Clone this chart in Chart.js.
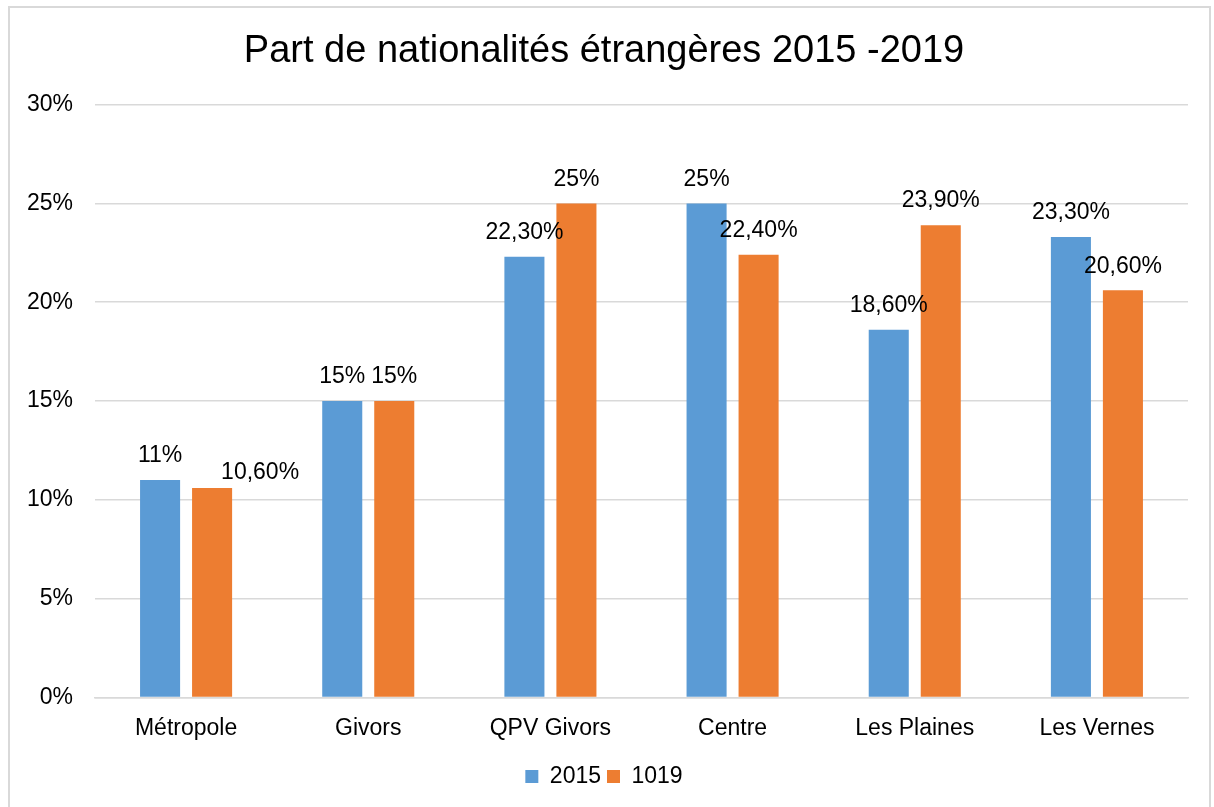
<!DOCTYPE html>
<html>
<head>
<meta charset="utf-8">
<script src="https://cdn.jsdelivr.net/npm/chart.js@4"></script>
<style>
  html, body { margin: 0; padding: 0; background: #fff; }
  #wrap { position: relative; width: 1214px; height: 807px; }
  #frame { position: absolute; left: 8px; top: 6px; width: 1203px; height: 803px;
           border: 2px solid #d9d9d9; box-sizing: border-box; pointer-events: none; }
</style>
</head>
<body>
<div id="wrap">
  <canvas id="chart" width="1214" height="807"></canvas>
  <div id="frame"></div>
</div>
<script>
const categories = ['Métropole', 'Givors', 'QPV Givors', 'Centre', 'Les Plaines', 'Les Vernes'];
const series2015 = [11, 15, 22.3, 25, 18.6, 23.3];
const series1019 = [10.6, 15, 25, 22.4, 23.9, 20.6];
const labels2015 = ['11%', '15%', '22,30%', '25%', '18,60%', '23,30%'];
const labels1019 = ['10,60%', '15%', '25%', '22,40%', '23,90%', '20,60%'];
const yTicks = [0, 5, 10, 15, 20, 25, 30];

const family = '"Liberation Sans", Arial, sans-serif';
const font = { family, size: 23 };

// data labels drawn above each bar, like Excel's "outside end"
const barLabels = {
  id: 'barLabels',
  afterDatasetsDraw(chart) {
    const ctx = chart.ctx;
    const texts = [labels2015, labels1019];
    ctx.save();
    ctx.font = '23px ' + family;
    ctx.fillStyle = '#000';
    ctx.textAlign = 'center';
    ctx.textBaseline = 'middle';
    chart.data.datasets.forEach((ds, di) => {
      chart.getDatasetMeta(di).data.forEach((bar, i) => {
        let x = bar.x, y = bar.y - 24;
        // Excel nudged this one sideways to avoid the neighbour
        if (di === 1 && i === 0) { x += 48; y += 9; }
        ctx.fillText(texts[di][i], x, y);
      });
    });
    ctx.restore();
  }
};

new Chart(document.getElementById('chart'), {
  type: 'bar',
  data: {
    labels: categories,
    datasets: [
      { label: '2015', data: series2015, backgroundColor: '#5b9bd5',
        barPercentage: 0.77, categoryPercentage: 0.571 },
      { label: '1019', data: series1019, backgroundColor: '#ed7d31',
        barPercentage: 0.77, categoryPercentage: 0.571 }
    ]
  },
  options: {
    responsive: false,
    animation: false,
    layout: { padding: { left: 20, right: 26, top: 11, bottom: 9 } },
    scales: {
      y: {
        min: 0, max: 30,
        afterBuildTicks: s => { s.ticks = yTicks.map(v => ({ value: v })); },
        afterFit: s => { s.width = 75; },
        ticks: { font, color: '#000', padding: 22, callback: v => v + '%' },
        grid: { color: '#d9d9d9', lineWidth: 1.5, drawTicks: false },
        border: { display: false }
      },
      x: {
        ticks: { font, color: '#000', padding: 17 },
        grid: { display: false, drawTicks: false },
        border: { color: '#d9d9d9', width: 1.5 }
      }
    },
    plugins: {
      title: {
        display: true,
        text: 'Part de nationalités étrangères 2015 -2019',
        font: { family, size: 38, weight: 'normal' },
        color: '#000',
        padding: { top: 18, bottom: 30 }
      },
      legend: {
        position: 'bottom',
        labels: { font, color: '#000', boxWidth: 13, boxHeight: 13, padding: 6 }
      },
      tooltip: { enabled: false }
    }
  },
  plugins: [barLabels]
});
</script>
</body>
</html>
